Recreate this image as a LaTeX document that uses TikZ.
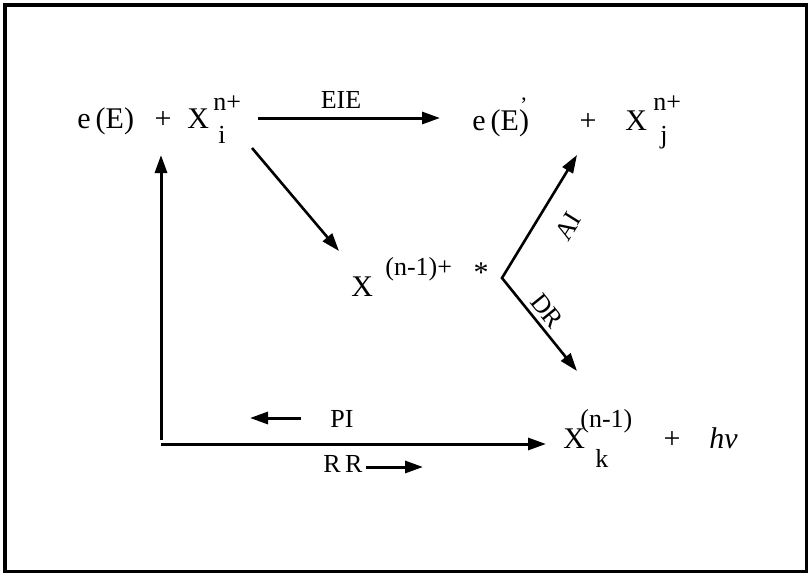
\documentclass[tikz,border=0pt]{standalone}
\usepackage{fontspec}
\setmainfont{Liberation Serif}
\usetikzlibrary{arrows.meta}

\begin{document}
\begin{tikzpicture}[x=0.5pt,y=-0.5pt]
                \tikzset{chem/.style = {inner sep=0pt,anchor=base west,font=\fontsize{15}{17}\selectfont}}
                \tikzset{idx/.style = {inner sep=0pt,anchor=base west,font=\fontsize{13}{15}\selectfont}}
                \tikzset{lbl/.style = {inner sep=0pt,font=\fontsize{13}{15}\selectfont}}
                \tikzset{edge/.style = {-{Triangle[length=9pt,width=6pt]},line width=1.5pt}}

                \useasboundingbox (0,0) rectangle (811,573);
                \draw[line width=1.5pt] (5,5) rectangle (806,571);

                % top row
                \node[chem] (eE) at (77,128) {e\,(E)};
                \node[chem,anchor=base] (plusA) at (163,128) {+};
                \node[chem] (Xi) at (187,128) {X};
                \node[idx] (Xi-sup) at (213,111) {n+};
                \node[idx] (Xi-sub) at (218,143) {i};

                \node[chem] (eEp) at (472,130) {e\,(E)\llap{\raisebox{1.25ex}{\fontsize{11}{11}\selectfont’}\hspace{0.05em}}};
                \node[chem,anchor=base] (plusB) at (588,130) {+};
                \node[chem] (Xj) at (625,130) {X};
                \node[idx] (Xj-sup) at (653,111) {n+};
                \node[idx] (Xj-sub) at (660,143) {j};

                % middle
                \node[chem] (Xs) at (351,296) {X};
                \node[idx] (Xs-sup) at (385,275) {(n-1)+};
                \node[chem,anchor=base] (star) at (481,282) {*};

                % bottom row
                \node[chem] (Xk) at (563,448) {X};
                \node[idx] (Xk-sup) at (580,428) {(n-1)};
                \node[idx] (Xk-sub) at (595,467) {k};
                \node[chem,anchor=base] (plusC) at (672,449) {+};
                \node[chem] (hv) at (709,448) {\itshape hν};

                % arrow ends
                \coordinate (eie-a) at (258,118);
                \coordinate (eie-b) at (440,118);
                \coordinate (exc-a) at (252,148);
                \coordinate (exc-b) at (339,251);
                \coordinate (vtx) at (502,278);
                \coordinate (ai-tip) at (577,155);
                \coordinate (dr-tip) at (577,371);
                \coordinate (corner-v) at (161,440);
                \coordinate (corner-h) at (161,444);
                \coordinate (up-tip) at (161,155);
                \coordinate (rr-tip) at (546,444);
                \coordinate (pi-a) at (301,418);
                \coordinate (pi-b) at (250,418);
                \coordinate (rr-a) at (366,467);
                \coordinate (rr-b) at (423,467);

                \draw[edge] (eie-a) -- (eie-b);
                \draw[edge,line width=1.3pt] (exc-a) -- (exc-b);
                \draw[{Triangle[length=9pt,width=6pt]}-{Triangle[length=9pt,width=6pt]},line width=1.3pt] (ai-tip) -- (vtx) -- (dr-tip);
                \draw[edge] (corner-v) -- (up-tip);
                \draw[edge] (corner-h) -- (rr-tip);
                \draw[edge] (pi-a) -- (pi-b);
                \draw[edge] (rr-a) -- (rr-b);

                % labels
                \node[lbl,anchor=base] (eie) at (341,108) {EIE};
                \node[lbl,rotate=58] (ai) at (568,226) {AI};
                \node[lbl,rotate=-51] (dr) at (547,311) {DR};
                \node[lbl,anchor=base west] (pi) at (330,428) {PI};
                \node[lbl,anchor=base west] (rr) at (323,473) {R\,R};

        \end{tikzpicture}
\end{document}
